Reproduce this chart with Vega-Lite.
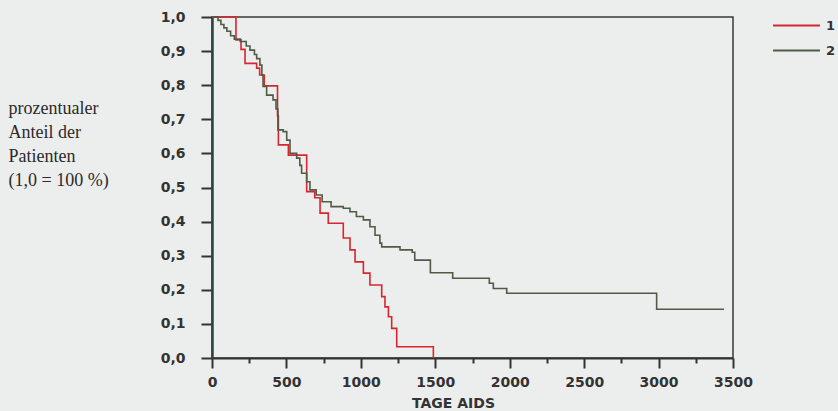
{
  "$schema": "https://vega.github.io/schema/vega-lite/v6.json",
  "width": 521,
  "height": 341,
  "autosize": {"type": "none"},
  "padding": {"left": 212, "top": 17, "right": 105, "bottom": 53},
  "background": "#eceeed",
  "config": {
    "view": {"stroke": "#3a3a3a", "strokeWidth": 1.5},
    "axis": {"grid": false}
  },
  "data": {
    "values": [
      {"tage": 0, "anteil": 1.0, "gruppe": "1"},
      {"tage": 161, "anteil": 0.933, "gruppe": "1"},
      {"tage": 195, "anteil": 0.905, "gruppe": "1"},
      {"tage": 222, "anteil": 0.864, "gruppe": "1"},
      {"tage": 300, "anteil": 0.85, "gruppe": "1"},
      {"tage": 320, "anteil": 0.83, "gruppe": "1"},
      {"tage": 351, "anteil": 0.798, "gruppe": "1"},
      {"tage": 440, "anteil": 0.71, "gruppe": "1"},
      {"tage": 446, "anteil": 0.625, "gruppe": "1"},
      {"tage": 513, "anteil": 0.595, "gruppe": "1"},
      {"tage": 636, "anteil": 0.488, "gruppe": "1"},
      {"tage": 690, "anteil": 0.47, "gruppe": "1"},
      {"tage": 726, "anteil": 0.425, "gruppe": "1"},
      {"tage": 781, "anteil": 0.395, "gruppe": "1"},
      {"tage": 882, "anteil": 0.352, "gruppe": "1"},
      {"tage": 927, "anteil": 0.317, "gruppe": "1"},
      {"tage": 961, "anteil": 0.282, "gruppe": "1"},
      {"tage": 1017, "anteil": 0.249, "gruppe": "1"},
      {"tage": 1061, "anteil": 0.214, "gruppe": "1"},
      {"tage": 1140, "anteil": 0.18, "gruppe": "1"},
      {"tage": 1162, "anteil": 0.15, "gruppe": "1"},
      {"tage": 1185, "anteil": 0.121, "gruppe": "1"},
      {"tage": 1207, "anteil": 0.087, "gruppe": "1"},
      {"tage": 1241, "anteil": 0.033, "gruppe": "1"},
      {"tage": 1487, "anteil": 0.0, "gruppe": "1"},
      {"tage": 0, "anteil": 1.0, "gruppe": "2"},
      {"tage": 40, "anteil": 0.99, "gruppe": "2"},
      {"tage": 60, "anteil": 0.978, "gruppe": "2"},
      {"tage": 80, "anteil": 0.968, "gruppe": "2"},
      {"tage": 100, "anteil": 0.958, "gruppe": "2"},
      {"tage": 125, "anteil": 0.945, "gruppe": "2"},
      {"tage": 150, "anteil": 0.935, "gruppe": "2"},
      {"tage": 190, "anteil": 0.928, "gruppe": "2"},
      {"tage": 230, "anteil": 0.915, "gruppe": "2"},
      {"tage": 255, "anteil": 0.903, "gruppe": "2"},
      {"tage": 285, "anteil": 0.89, "gruppe": "2"},
      {"tage": 300, "anteil": 0.878, "gruppe": "2"},
      {"tage": 322, "anteil": 0.859, "gruppe": "2"},
      {"tage": 335, "anteil": 0.83, "gruppe": "2"},
      {"tage": 343, "anteil": 0.796, "gruppe": "2"},
      {"tage": 367, "anteil": 0.771, "gruppe": "2"},
      {"tage": 410, "anteil": 0.757, "gruppe": "2"},
      {"tage": 430, "anteil": 0.73, "gruppe": "2"},
      {"tage": 443, "anteil": 0.669, "gruppe": "2"},
      {"tage": 478, "anteil": 0.664, "gruppe": "2"},
      {"tage": 502, "anteil": 0.639, "gruppe": "2"},
      {"tage": 524, "anteil": 0.6, "gruppe": "2"},
      {"tage": 569, "anteil": 0.586, "gruppe": "2"},
      {"tage": 590, "anteil": 0.565, "gruppe": "2"},
      {"tage": 602, "anteil": 0.542, "gruppe": "2"},
      {"tage": 636, "anteil": 0.517, "gruppe": "2"},
      {"tage": 658, "anteil": 0.493, "gruppe": "2"},
      {"tage": 700, "anteil": 0.478, "gruppe": "2"},
      {"tage": 740, "anteil": 0.458, "gruppe": "2"},
      {"tage": 800, "anteil": 0.444, "gruppe": "2"},
      {"tage": 882, "anteil": 0.439, "gruppe": "2"},
      {"tage": 927, "anteil": 0.429, "gruppe": "2"},
      {"tage": 970, "anteil": 0.415, "gruppe": "2"},
      {"tage": 1017, "anteil": 0.405, "gruppe": "2"},
      {"tage": 1061, "anteil": 0.385, "gruppe": "2"},
      {"tage": 1095, "anteil": 0.36, "gruppe": "2"},
      {"tage": 1128, "anteil": 0.337, "gruppe": "2"},
      {"tage": 1140, "anteil": 0.326, "gruppe": "2"},
      {"tage": 1263, "anteil": 0.317, "gruppe": "2"},
      {"tage": 1345, "anteil": 0.31, "gruppe": "2"},
      {"tage": 1362, "anteil": 0.287, "gruppe": "2"},
      {"tage": 1467, "anteil": 0.25, "gruppe": "2"},
      {"tage": 1617, "anteil": 0.234, "gruppe": "2"},
      {"tage": 1863, "anteil": 0.219, "gruppe": "2"},
      {"tage": 1890, "anteil": 0.204, "gruppe": "2"},
      {"tage": 1980, "anteil": 0.19, "gruppe": "2"},
      {"tage": 2987, "anteil": 0.143, "gruppe": "2"},
      {"tage": 3440, "anteil": 0.143, "gruppe": "2"}
    ]
  },
  "layer": [
    {
      "mark": {"type": "line", "interpolate": "step-after", "strokeWidth": 1.6},
      "encoding": {
        "x": {
          "field": "tage",
          "type": "quantitative",
          "scale": {"domain": [0, 3500], "nice": false, "zero": true},
          "axis": {
            "orient": "bottom",
            "values": [0, 500, 1000, 1500, 2000, 2500, 3000, 3500],
            "format": "d",
            "tickSize": 10,
            "tickWidth": 2,
            "tickColor": "#333333",
            "domainColor": "#333333",
            "domainWidth": 2,
            "labelFont": "DejaVu Sans",
            "labelFontWeight": "bold",
            "labelFontSize": 14,
            "labelColor": "#333333",
            "labelPadding": 7,
            "labelDx": -6,
            "labelFlush": false,
            "title": "TAGE AIDS",
            "titleFont": "DejaVu Sans",
            "titleFontWeight": "bold",
            "titleFontSize": 14,
            "titleColor": "#333333",
            "titlePadding": 7,
            "titleX": 241,
            "titleAlign": "center"
          }
        },
        "y": {
          "field": "anteil",
          "type": "quantitative",
          "scale": {"domain": [0, 1], "nice": false},
          "axis": {
            "orient": "left",
            "values": [0, 0.1, 0.2, 0.3, 0.4, 0.5, 0.6, 0.7, 0.8, 0.9, 1.0],
            "labelExpr": "replace(format(datum.value, '.1f'), '.', ',')",
            "tickSize": 11,
            "tickWidth": 2,
            "tickColor": "#333333",
            "domainColor": "#2f4544",
            "domainWidth": 2.5,
            "labelFont": "DejaVu Sans",
            "labelFontWeight": "bold",
            "labelFontSize": 14,
            "labelColor": "#333333",
            "labelPadding": 16,
            "title": ["prozentualer", "Anteil der", "Patienten", "(1,0 = 100 %)"],
            "titleFont": "Liberation Serif",
            "titleFontWeight": "normal",
            "titleFontSize": 18,
            "titleColor": "#2a2a2a",
            "titleAngle": 0,
            "titleAlign": "left",
            "titleBaseline": "alphabetic",
            "titleX": -204,
            "titleY": 96,
            "titleLineHeight": 24
          }
        },
        "color": {
          "field": "gruppe",
          "type": "nominal",
          "scale": {"domain": ["1", "2"], "range": ["#d8262e", "#4f5b45"]},
          "legend": {
            "orient": "none",
            "legendX": 560,
            "legendY": -4,
            "title": null,
            "symbolType": "stroke",
            "symbolSize": 2200,
            "symbolStrokeWidth": 1.8,
            "clipHeight": 25,
            "rowPadding": 0,
            "labelFont": "DejaVu Sans",
            "labelFontWeight": "bold",
            "labelFontSize": 13,
            "labelColor": "#333333",
            "labelOffset": 5
          }
        }
      }
    },
    {
      "mark": {"type": "line", "strokeOpacity": 0},
      "encoding": {
        "x": {
          "field": "tage",
          "type": "quantitative",
          "scale": {"domain": [0, 3500], "nice": false},
          "axis": {
            "orient": "bottom",
            "values": [250, 750, 1250, 1750, 2250, 2750, 3250],
            "tickSize": 5,
            "tickWidth": 2,
            "tickColor": "#333333",
            "labels": false,
            "domain": false,
            "title": null
          }
        },
        "y": {"field": "anteil", "type": "quantitative", "axis": null},
        "detail": {"field": "gruppe", "type": "nominal"}
      }
    }
  ],
  "resolve": {"axis": {"x": "independent", "y": "independent"}}
}
